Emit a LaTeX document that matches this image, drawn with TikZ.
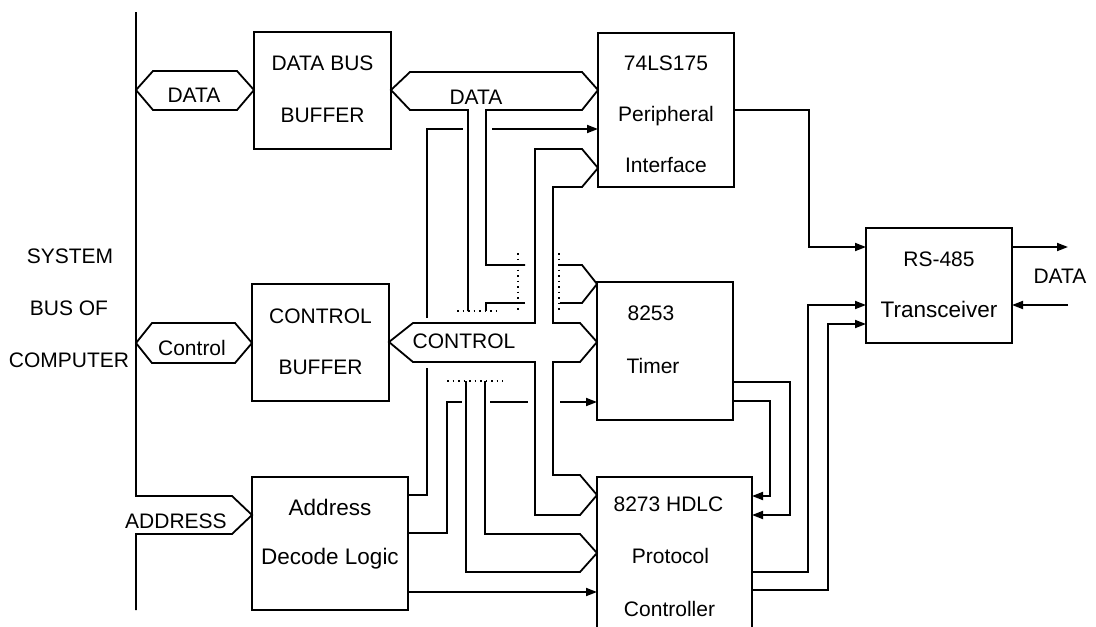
\documentclass[tikz,border=0pt]{standalone}
\usepackage{fontspec}
\setmainfont{Liberation Sans}
\usetikzlibrary{arrows.meta}
\begin{document}
\begin{tikzpicture}[x=1pt,y=-1pt,
  ln/.style={line width=1.8pt, line join=miter},
  box/.style={draw, line width=1.8pt, inner sep=0pt, outer sep=0pt, anchor=north west},
  lbl/.style={font=\fontsize{21}{24}\selectfont, anchor=base, inner sep=0pt},
  lblw/.style={font=\fontsize{22.5}{26}\selectfont, anchor=base, inner sep=0pt},
  arr/.style={ln, -{Triangle[length=11pt,width=8pt]}},
  dots/.style={line width=1.5pt, dash pattern=on 1.5pt off 4pt}]
\useasboundingbox (0,0) rectangle (1096,627);
\clip (0,0) rectangle (1096,627);

% boxes
\node[box, minimum width=137pt, minimum height=117pt] (dbb) at (254,32) {};
\node[box, minimum width=137pt, minimum height=117pt] (cb) at (252,284) {};
\node[box, minimum width=156pt, minimum height=133pt] (adl) at (252,477) {};
\node[box, minimum width=136pt, minimum height=154pt] (p74) at (598,33) {};
\node[box, minimum width=136pt, minimum height=138pt] (tmr) at (597,282) {};
\node[box, minimum width=155pt, minimum height=170pt] (hdlc) at (597,477) {};
\node[box, minimum width=146pt, minimum height=115pt] (rs) at (866,228) {};

% box texts
\node[lbl] (t1) at (dbb.center |- 0,70) {DATA BUS};
\node[lbl] (t2) at (dbb.center |- 0,122) {BUFFER};
\node[lbl] (t3) at (cb.center |- 0,323) {CONTROL};
\node[lbl] (t4) at (cb.center |- 0,374) {BUFFER};
\node[lblw] (t5) at (adl.center |- 0,515) {Address};
\node[lblw] (t6) at (adl.center |- 0,564) {Decode Logic};
\node[lbl] (t7) at (p74.center |- 0,70) {74LS175};
\node[lbl] (t8) at (p74.center |- 0,121) {Peripheral};
\node[lbl] (t9) at (p74.center |- 0,172) {Interface};
\node[lbl] (t10) at ([xshift=-14pt]tmr.center |- 0,320) {8253};
\node[lbl] (t11) at ([xshift=-12pt]tmr.center |- 0,373) {Timer};
\node[lbl] (t12) at ([xshift=-6pt]hdlc.center |- 0,511) {8273 HDLC};
\node[lbl] (t13) at ([xshift=-4pt]hdlc.center |- 0,563) {Protocol};
\node[lbl] (t14) at ([xshift=-5pt]hdlc.center |- 0,616) {Controller};
\node[lbl] (t15) at (rs.center |- 0,266) {RS-485};
\node[lblw] (t16) at (rs.center |- 0,317) {Transceiver};

% left labels
\node[lbl] (s1) at (70,263) {SYSTEM};
\node[lbl] (s2) at (69,315) {BUS OF};
\node[lbl] (s3) at (69,367) {COMPUTER};

% system bus
\draw[ln] (136,12) -- (136,496) -- (232,496) -- (adl.west |- 0,515) -- (232,534) -- (136,534) -- (136,610);
\node[lbl] (addr) at (176,528) {ADDRESS};

% small bus shapes
\draw[ln] (136,90) -- (153,71) -- (237,71) -- (dbb.west |- 0,90) -- (237,110) -- (153,110) -- cycle;
\node[lbl] (dl) at (194,102) {DATA};
\draw[ln] (136,343) -- (152,323) -- (235,323) -- (cb.west |- 0,343) -- (235,363) -- (152,363) -- cycle;
\node[lbl] (cl) at (192,355) {Control};

% internal DATA bus
\draw[ln] (468,311) -- (468,110) -- (410,110) -- (dbb.east |- 0,90) -- (410,72) -- (582,72)
  -- (p74.west |- 0,90) -- (582,110) -- (486,110) -- (486,265) -- (525,265);
\draw[ln] (525,303) -- (486,303) -- (486,311);
\draw[ln] (560,265) -- (582,265) -- (tmr.west |- 0,284) -- (582,303) -- (560,303);
\draw[dots] (518,253) -- (518,311);
\draw[dots] (559,253) -- (559,311);
\draw[dots] (457,311) -- (497,311);
\draw[dots] (447,381) -- (503,381);
\draw[ln] (466,381) -- (466,572) -- (580,572) -- (hdlc.west |- 0,553) -- (580,534) -- (485,534) -- (485,381);
\node[lbl] (dbl) at (476,104) {DATA};

% internal CONTROL bus
\draw[ln] (535,323) -- (413,323) -- (cb.east |- 0,342) -- (413,362) -- (535,362) -- (535,515) -- (580,515)
  -- (hdlc.west |- 0,495) -- (580,475) -- (553,475) -- (553,362) -- (580,362) -- (tmr.west |- 0,342)
  -- (580,323) -- (553,323) -- (553,187) -- (582,187) -- (p74.west |- 0,168) -- (582,149) -- (535,149) -- cycle;
\node[lbl] (cbl) at (464,348) {CONTROL};

% address decode outputs
\draw[ln] (adl.east |- 0,495) -- (427,495) -- (427,368);
\draw[ln] (427,318) -- (427,129) -- (463,129);
\draw[arr] (492,129) -- (p74.west |- 0,129);
\draw[ln] (adl.east |- 0,533) -- (447,533) -- (447,402) -- (462,402);
\draw[ln] (490,402) -- (528,402);
\draw[arr] (560,402) -- (tmr.west |- 0,402);
\draw[arr] (adl.east |- 0,592) -- (hdlc.west |- 0,592);

% timer outputs
\draw[arr] (tmr.east |- 0,382) -| (790,515) -- (hdlc.east |- 0,515);
\draw[arr] (tmr.east |- 0,401) -| (770,496) -- (hdlc.east |- 0,496);

% to transceiver
\draw[arr] (p74.east |- 0,110) -| (809,247) -- (rs.west |- 0,247);
\draw[arr] (hdlc.east |- 0,572) -| (808,305) -- (rs.west |- 0,305);
\draw[arr] (hdlc.east |- 0,590) -| (828,324) -- (rs.west |- 0,324);

% data out / in
\coordinate (dout) at (1068,247);
\coordinate (din) at (1068,305);
\draw[arr] (rs.east |- 0,247) -- (dout);
\draw[arr] (din) -- (rs.east |- 0,305);
\node[lbl] (dr) at (1060,283) {DATA};
\end{tikzpicture}
\end{document}
